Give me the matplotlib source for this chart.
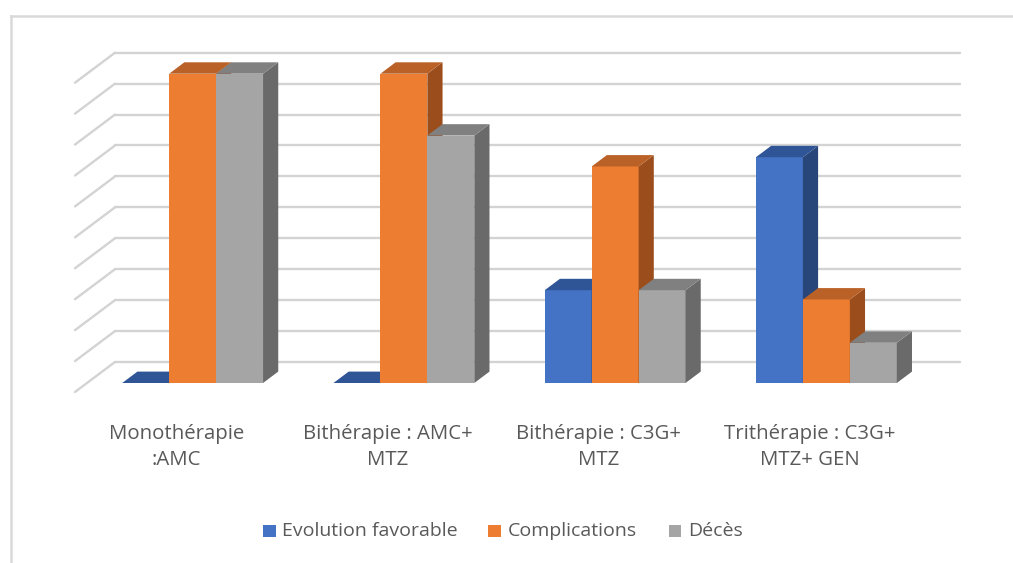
import matplotlib
matplotlib.use("Agg")
import matplotlib.pyplot as plt
from matplotlib.patches import Polygon, Rectangle
from matplotlib.lines import Line2D

# ---- data -------------------------------------------------------------
categories = [
    "Monothérapie\n:AMC",
    "Bithérapie : AMC+\nMTZ",
    "Bithérapie : C3G+\nMTZ",
    "Trithérapie : C3G+\nMTZ+ GEN",
]
series_names = ["Evolution favorable", "Complications", "Décès"]
evolution = [0, 0, 30, 73]
complications = [100, 100, 70, 27]
deces = [100, 80, 30, 13]
grid_values = list(range(0, 101, 10))

# ---- style ------------------------------------------------------------
face_colors = ["#4472C4", "#ED7D31", "#A5A5A5"]
top_colors = ["#2F5597", "#BA6127", "#808080"]
side_colors = ["#284679", "#9B4E1C", "#6A6A6A"]
text_color = "#595959"
grid_color = "#D3D3D3"
FONT = ["Open Sans", "DejaVu Sans"]

W, H = 1013, 563
fig = plt.figure(figsize=(W / 100, H / 100), dpi=100)
ax = fig.add_axes([0, 0, 1, 1])
ax.set_axis_off()

# front plane: category -0.5 at x=75px, 211.25 px per category;
# value 0 at y=392px (from top), 3.093 px per value unit
px_per_cat = 211.25
px_per_val = 3.093
x_left = -0.5 - 75 / px_per_cat
y_top = 392 / px_per_val
ax.set_xlim(x_left, x_left + W / px_per_cat)
ax.set_ylim(y_top - H / px_per_val, y_top)

# oblique depth vector (front plane -> back wall)
DX = 40 / px_per_cat
DY = 30 / px_per_val

n_cat = len(categories)
x_lo, x_hi = -0.5, n_cat - 0.5

# walls: gridlines on back wall and left side wall
for v in grid_values:
    ax.add_line(Line2D([x_lo + DX, x_hi + DX], [v + DY, v + DY],
                       color=grid_color, lw=1.7, solid_capstyle="round", zorder=1))
    ax.add_line(Line2D([x_lo, x_lo + DX], [v, v + DY],
                       color=grid_color, lw=1.7, solid_capstyle="round", zorder=1))

# 3D bars
series = [evolution, complications, deces]
n_ser = len(series)
bw = 1.0 / (n_ser + 1.5)      # gap width 150 %
d0, d1 = 0.3, 0.68            # bar depth range inside the category slot
z = 2
for i in range(n_cat):
    for s in range(n_ser):
        h = series[s][i]
        x0 = i - n_ser * bw / 2 + s * bw
        x1 = x0 + bw
        fx0, fx1 = x0 + d0 * DX, x1 + d0 * DX
        bx0, bx1 = x0 + d1 * DX, x1 + d1 * DX
        fy, by = d0 * DY, d1 * DY
        if h > 0:
            ax.add_patch(Rectangle((fx0, fy), bw, h, facecolor=face_colors[s],
                                   edgecolor="none", zorder=z))
            ax.add_patch(Polygon([(fx1, fy), (bx1, by), (bx1, h + by), (fx1, h + fy)],
                                 closed=True, facecolor=side_colors[s],
                                 edgecolor="none", zorder=z))
        ax.add_patch(Polygon([(fx0, h + fy), (fx1, h + fy), (bx1, h + by), (bx0, h + by)],
                             closed=True, facecolor=top_colors[s],
                             edgecolor="none", zorder=z))
        z += 1

# category labels
for i, lab in enumerate(categories):
    ax.text(i - 0.02, -10.2, lab, ha="center", va="top", multialignment="center",
            fontsize=14.7, color=text_color, family=FONT, linespacing=1.42)

# legend
def fx(px):
    return px / W

def fy(px):
    return 1 - px / H

leg_x = [263.3, 488.3, 669.0]
sq = 12.3
for s, name in enumerate(series_names):
    fig.patches.append(Rectangle((fx(leg_x[s]), fy(537.3)), sq / W, sq / H,
                                 transform=fig.transFigure, facecolor=face_colors[s],
                                 edgecolor="none"))
    fig.text(fx(leg_x[s] + 19), fy(531.5), name, ha="left", va="center",
             fontsize=14, color=text_color, family=FONT)

# chart area border (top and left edges)
fig.add_artist(Line2D([fx(10.5), fx(10.5)], [fy(15.5), 0], transform=fig.transFigure,
                      color="#D9D9D9", lw=1.8))
fig.add_artist(Line2D([fx(10.5), 1], [fy(15.5), fy(15.5)], transform=fig.transFigure,
                      color="#D9D9D9", lw=1.8))

fig.savefig("out.png", dpi=100, facecolor="white")
